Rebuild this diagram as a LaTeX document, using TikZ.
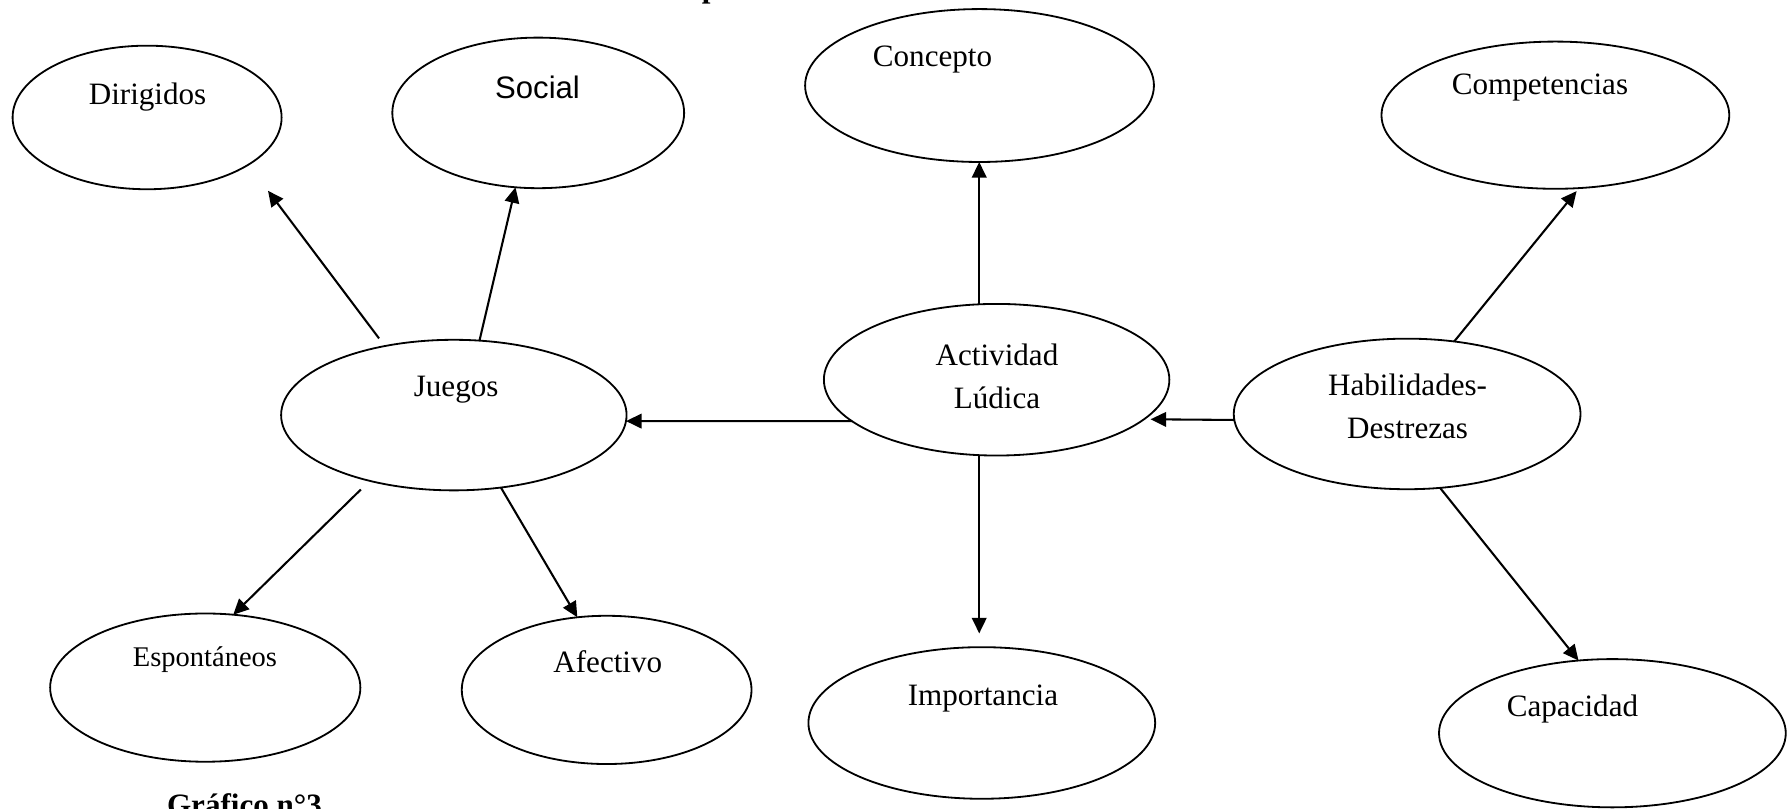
\documentclass[tikz,border=0pt]{standalone}
\usepackage{fontspec}
\setmainfont{Liberation Serif}
\newfontfamily\arialfont{Liberation Sans}
\usetikzlibrary{arrows.meta,shapes.geometric}
\tikzset{
  bubble/.style 2 args = {ellipse, draw, line width=0.7pt, minimum width=#1,
                          minimum height=#2, inner sep=0pt, outer sep=0pt},
  txt/.style    = {anchor=base, inner sep=0pt, font=\fontsize{12}{16.3}\selectfont},
  twoline/.style = {txt, anchor=center, align=center},
  bold/.style   = {inner sep=0pt, font=\bfseries\fontsize{12}{14}\selectfont},
  arr/.style    = {-{Triangle[length=6pt,width=5.6pt]}, line width=0.8pt},
}

\begin{document}
\begin{tikzpicture}[x=0.44pt,y=-0.44pt]
  \useasboundingbox (0,0) rectangle (1568,709);

  % ellipses
  \node[bubble={103.8pt}{55.4pt}] (dir) at (129,103) {};
  \node[bubble={112.6pt}{58.1pt}] (soc) at (472,99) {};
  \node[bubble={134.6pt}{59pt}]   (con) at (859,75) {};
  \node[bubble={134.2pt}{56.8pt}] (com) at (1364,101) {};
  \node[bubble={133.3pt}{58.1pt}] (jue) at (398,364) {};
  \node[bubble={133.3pt}{58.5pt}] (act) at (874,333) {};
  \node[bubble={133.8pt}{58.1pt}] (hab) at (1234,363) {};
  \node[bubble={119.7pt}{57.2pt}] (esp) at (180,603) {};
  \node[bubble={111.8pt}{57.2pt}] (afe) at (532,605) {};
  \node[bubble={133.8pt}{58.5pt}] (imp) at (861,634) {};
  \node[bubble={133.8pt}{57.2pt}] (cap) at (1414,643) {};

  % texts
  \node[txt] (tdir) at (129.4,92) {Dirigidos};
  \node[txt,font=\arialfont\fontsize{12}{14}\selectfont] (tsoc) at (471.4,86.2) {Social};
  \node[txt] (tcon) at (817.8,58.5) {Concepto};
  \node[txt] (tcom) at (1350.5,82.7) {Competencias};
  \node[txt] (tjue) at (400,348) {Juegos};
  \node[twoline] (tact) at (874.3,330) {Actividad\\Lúdica};
  \node[twoline] (thab) at (1234.4,356.4) {Habilidades-\\Destrezas};
  \node[txt,font=\fontsize{11}{13}\selectfont] (tesp) at (179.8,584.7) {Espontáneos};
  \node[txt] (tafe) at (533,590) {Afectivo};
  \node[txt] (timp) at (862,619) {Importancia};
  \node[txt] (tcap) at (1379,628) {Capacidad};

  \node[bold,anchor=base west] (titulo) at (615,-1.8) {p};
  \node[bold,anchor=base west] (graf) at (146,715) {Gráfico n°3};

  % arrows
  \draw[arr,shorten <=3.7pt,shorten >=12.6pt] (jue.135.7) -- (dir.-25.7);
  \draw[arr] (jue.71.3) -- (soc.-107);
  \draw[arr] (act.196.5) -- (jue.-2.3);
  \draw[arr] (act.103.7) -- (act.103.7 |- con.south);
  \draw[arr,shorten >=5.3pt] (act.-103.7) -- (act.-103.7 |- imp.north);
  \draw[arr,shorten >=2.5pt] (hab.182.3) -- (act.-15.8);
  \draw[arr,shorten >=1.5pt] (hab.57.3) -- (com.-72.5);
  \draw[arr] (hab.-66.7) -- (cap.115.2);
  \draw[arr,shorten <=4.8pt] (jue.-142.7) -- (esp.69.4);
  \draw[arr] (jue.-57.8) -- (afe.112.2);
\end{tikzpicture}
\end{document}
